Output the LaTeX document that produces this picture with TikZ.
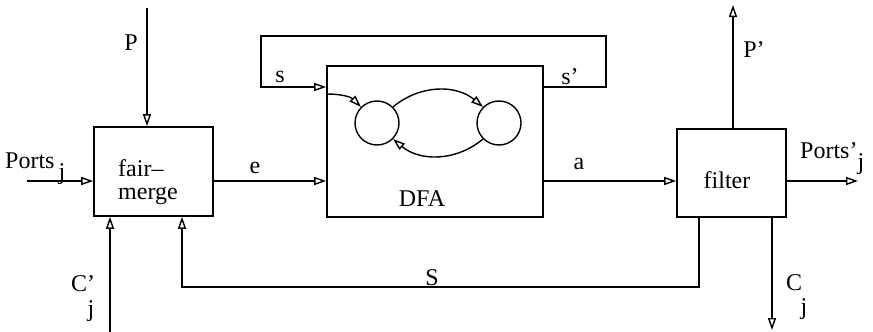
\documentclass[tikz,border=0pt]{standalone}
\usepackage{fontspec}
\setmainfont{Liberation Serif}
\usetikzlibrary{arrows.meta,calc,positioning}

\begin{document}
\begin{tikzpicture}[x=1pt,y=-1pt,
    box/.style={draw,line width=1.6pt,inner sep=0pt},
    state/.style={draw,circle,line width=1.4pt,minimum size=44pt,inner sep=0pt},
    flow/.style={line width=1.4pt,-{Triangle[open,length=12pt,width=8pt,line width=1.4pt]}},
    lbl/.style={font=\fontsize{24}{23}\selectfont,inner sep=0pt}]
    \useasboundingbox (0,0) rectangle (873,332);
    %Boxes
    \node[box,minimum width=119pt,minimum height=89pt] (merge) at (153.5,171.5) {};
    \node[box,minimum width=216pt,minimum height=151pt] (dfa) at (435,141.5) {};
    \node[box,minimum width=109pt,minimum height=88pt] (filter) at (731.5,173) {};
    \node[lbl,align=left] (mergetxt) at (148,182) {fair--\\merge};
    \node[lbl] (dfatxt) at (422,199) {DFA};
    \node[lbl] (filtertxt) at (727,180) {filter};
    %States
    \node[state] (q0) at (377,123) {};
    \node[state] (q1) at (499,123) {};
    %Free ends
    \coordinate (pin) at (147,8);
    \coordinate (portsin) at (27,181);
    \coordinate (cin) at (110,332);
    \coordinate (pout) at (733,5);
    \coordinate (portsout) at (858,181);
    \coordinate (cout) at (772,330);
    \coordinate (sl) at (261,87);
    \coordinate (sr) at (606,87);
    \coordinate (slt) at (261,36);
    \coordinate (srt) at (606,36);
    \coordinate (bl) at (182,287);
    \coordinate (br) at (699,287);
    \coordinate (init) at (327,94);
    %Connectors
    \draw[flow] (pin) -- (pin |- merge.north);
    \draw[flow] (portsin) -- (portsin -| merge.west);
    \draw[flow] (cin) -- (cin |- merge.south);
    \draw[flow] (merge.east |- portsin) -- (dfa.west |- portsin);
    \draw[flow] (dfa.east |- portsin) -- (filter.west |- portsin);
    \draw[flow] (pout |- filter.north) -- (pout);
    \draw[flow] (filter.east |- portsout) -- (portsout);
    \draw[flow] (cout |- filter.south) -- (cout);
    \draw[flow] (dfa.east |- sr) -- (sr) -- (srt) -- (slt) -- (sl) -- (sl -| dfa.west);
    \draw[flow] (br |- filter.south) -- (br) -- (bl) -- (bl |- merge.south);
    %Transitions
    \draw[flow] (init) to[out=0,in=135] (q0.135);
    \draw[flow] (q0.45) to[out=40,in=140] (q1.135);
    \draw[flow] (q1.225) to[out=220,in=320] (q0.315);
    %Labels
    \node[lbl] (plbl) at (131,43) {P};
    \node[lbl,anchor=base west] (portslbl) at (5,168) {Ports\,\raisebox{-11pt}{j}};
    \node[lbl] (elbl) at (255,168) {e};
    \node[lbl] (cinlbl) at (83,284) {C'};
    \node[lbl] (cinsub) at (91,311) {j};
    \node[lbl] (slbl) at (280,77) {s};
    \node[lbl] (sprimelbl) at (570,77) {s'};
    \node[lbl] (albl) at (579,164) {a};
    \node[lbl] (poutlbl) at (754,50) {P'};
    \node[lbl,anchor=base west] (portsoutlbl) at (800,158) {Ports'\raisebox{-11pt}{j}};
    \node[lbl] (coutlbl) at (794,283) {C};
    \node[lbl] (coutsub) at (804,309) {j};
    \node[lbl] (Slbl) at (432,278) {S};
\end{tikzpicture}
\end{document}
